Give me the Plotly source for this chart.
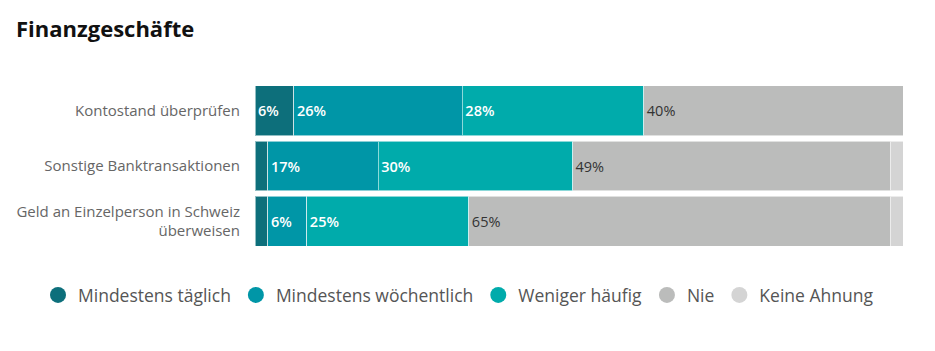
import plotly.graph_objects as go

categories = ["Kontostand überprüfen", "Sonstige Banktransaktionen",
              "Geld an Einzelperson in Schweiz<br>überweisen"]
series_names = ["Mindestens täglich", "Mindestens wöchentlich", "Weniger häufig", "Nie", "Keine Ahnung"]
taeglich = [6, 2, 2]
woechentlich = [26, 17, 6]
weniger = [28, 30, 25]
nie = [40, 49, 65]
keine = [0, 2, 2]
series_values = [taeglich, woechentlich, weniger, nie, keine]

colors = ["#0d6f7b", "#0096a7", "#00abab", "#bbbcbb", "#d4d4d4"]
text_colors = ["#ffffff", "#ffffff", "#ffffff", "#333333", "#333333"]
text_weights = [600, 600, 600, 400, 400]

fig = go.Figure()
for name, vals, col, tcol, tw in zip(series_names, series_values, colors, text_colors, text_weights):
    fig.add_trace(go.Bar(
        y=categories, x=vals, name=name, orientation="h",
        marker=dict(color=col, line=dict(color="rgba(255,255,255,0.55)", width=1)),
        text=[f"{v}%" if v >= 5 else "" for v in vals],
        textposition="inside", insidetextanchor="start",
        textfont=dict(color=tcol, size=14.5, family="Open Sans", weight=tw),
        constraintext="none",
        showlegend=False, hoverinfo="skip",
    ))
for name, col in zip(series_names, colors):
    fig.add_trace(go.Scatter(
        x=[None], y=[None], mode="markers", name=name,
        marker=dict(color=col, size=16, symbol="circle"),
        showlegend=True,
    ))

ml, mr, mt, mb = 255, 32, 83, 102
pw, ph = 935 - ml - mr, 351 - mt - mb

fig.update_layout(
    width=935, height=351,
    margin=dict(l=ml, r=mr, t=mt, b=mb, autoexpand=False),
    barmode="stack", bargap=0.1,
    plot_bgcolor="white", paper_bgcolor="white",
    font=dict(family="Open Sans", color="#666666"),
    title=dict(text="<b>Finanzgeschäfte</b>", x=16/935, xanchor="left", xref="container",
               y=1 - 29/351, yanchor="middle", yref="container",
               font=dict(family="Open Sans", size=22, color="#111111")),
    xaxis=dict(range=[0, 100], visible=False, fixedrange=True),
    yaxis=dict(categoryorder="array", categoryarray=categories, autorange="reversed",
               showgrid=False, zeroline=False, showline=False, ticks="",
               ticklabelstandoff=14,
               tickfont=dict(family="Open Sans", size=15, color="#666666")),
    legend=dict(orientation="h", xref="paper", yref="paper",
                x=(38 - ml) / pw, xanchor="left", y=-(295 - (351 - mb)) / ph, yanchor="middle",
                traceorder="normal",
                font=dict(family="Open Sans", size=17.5, color="#555555"),
                itemclick=False, itemdoubleclick=False, tracegroupgap=0),
    showlegend=True,
)

fig.write_html("out.html")
